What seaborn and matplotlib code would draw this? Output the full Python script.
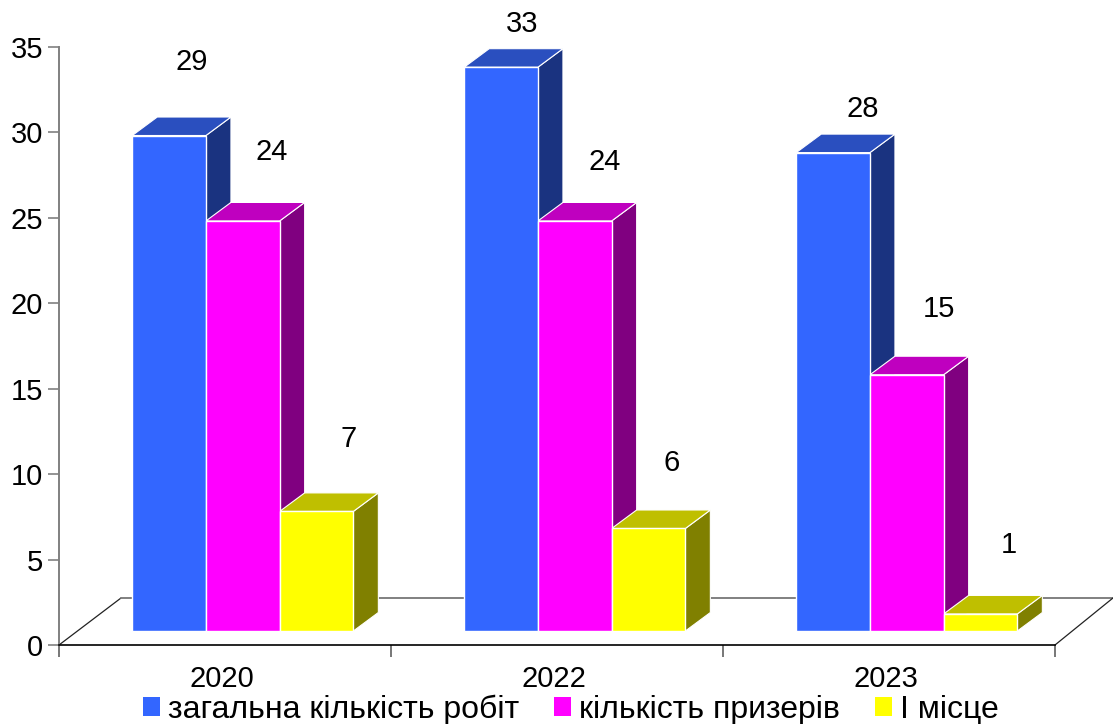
import matplotlib.pyplot as plt
from matplotlib.patches import Patch, Polygon
import pandas as pd
import seaborn as sns

years = ['2020', '2022', '2023']
series = ['загальна кількість робіт', 'кількість призерів', 'І місце']
total_works = [29, 33, 28]
winners = [24, 24, 15]
first_place = [7, 6, 1]

front_colors = ['#3366FF', '#FF00FF', '#FFFF00']
top_colors = ['#2A4FBF', '#BF00BF', '#BFBF00']
side_colors = ['#1A3380', '#800080', '#808000']

# label offsets from the bar's top centre, in pixels (same order as the bars)
label_offsets = [(23, 73.5), (29, 68.5), (32.5, 72.5),
                 (21, 43.5), (30, 58.5), (23.5, 65),
                 (30, 43.5), (32, 65.5), (28, 68.5)]

sns.set_theme(style='white')
plt.rcParams['font.family'] = ['Liberation Sans', 'DejaVu Sans']

df = pd.DataFrame({
    'year': years * 3,
    'kind': [s for s in series for _ in years],
    'value': total_works + winners + first_place,
})

fig = plt.figure(figsize=(11.13, 7.24), dpi=100)
ax = fig.add_axes([59 / 1113, 1 - 645 / 724, 996 / 1113, 598 / 724])

# px per data unit along each axis
px_x = 332.0
px_y = 598 / 35
shift = 17.8 / px_x
base = 14 / px_y
depth_x = 25 / px_x
depth_y = 18.5 / px_y

sns.barplot(data=df, x='year', y='value', hue='kind', order=years, hue_order=series,
            palette=front_colors, width=0.666, bottom=base, saturation=1, legend=False,
            edgecolor='white', linewidth=1, zorder=5, ax=ax)

ax.set_xlim(-0.5 - shift, 2.5 - shift)
ax.set_ylim(0, 35)

# floor of the 3d box
floor_x = 62 / 996
floor_y = 47 / 598
ax.plot([0, floor_x], [0, floor_y], transform=ax.transAxes, color='#222222', lw=0.9, clip_on=False, zorder=1)
ax.plot([floor_x, 1.0582], [floor_y, floor_y], transform=ax.transAxes, color='#808080', lw=1.4, clip_on=False, zorder=1)
ax.plot([1, 1.0582], [0, floor_y], transform=ax.transAxes, color='#222222', lw=0.9, clip_on=False, zorder=1)

# side and top faces, taken from the bars seaborn drew
bars = sorted(ax.patches, key=lambda b: b.get_x())
for i, bar in enumerate(bars):
    s = i % 3
    x0 = bar.get_x()
    x1 = x0 + bar.get_width()
    y0 = bar.get_y()
    y1 = y0 + bar.get_height()
    ax.add_patch(Polygon([(x1, y0), (x1 + depth_x, y0 + depth_y), (x1 + depth_x, y1 + depth_y), (x1, y1)],
                         facecolor=side_colors[s], edgecolor='white', lw=0.8, zorder=2, clip_on=False))
    ax.add_patch(Polygon([(x0, y1), (x0 + depth_x, y1 + depth_y), (x1 + depth_x, y1 + depth_y), (x1, y1)],
                         facecolor=top_colors[s], edgecolor='white', lw=0.8, zorder=2, clip_on=False))
    dx, dy = label_offsets[i]
    ax.annotate(str(int(round(bar.get_height()))), ((x0 + x1) / 2, y1), xytext=(dx * 0.72, dy * 0.72),
                textcoords='offset points', ha='center', va='center', fontsize=21, color='black',
                annotation_clip=False, zorder=6)

sns.despine(ax=ax)
ax.spines['left'].set_color('#808080')
ax.spines['left'].set_linewidth(1.4)
ax.spines['bottom'].set_color('black')
ax.spines['bottom'].set_linewidth(1.2)

ax.set_xlabel('')
ax.set_ylabel('')
ax.set_yticks(range(0, 36, 5))
ax.tick_params(axis='y', which='major', left=True, length=8, width=1.2, color='#808080', pad=3.5, labelsize=21, labelcolor='black')

# ticks on the category borders, year labels on minor ticks
ax.set_xticks([k - 0.5 - shift for k in range(4)])
ax.set_xticklabels([])
ax.set_xticks([k - 20.5 / px_x for k in range(3)], minor=True)
ax.set_xticklabels(years, minor=True)
ax.tick_params(axis='x', which='major', bottom=True, length=8.5, width=1.2, color='#606060')
ax.tick_params(axis='x', which='minor', bottom=False, length=0, pad=14.5, labelsize=21, labelcolor='black')

handles = [Patch(facecolor=c, edgecolor='none', label=s) for c, s in zip(front_colors, series)]
fig.legend(handles=handles, loc='center', bbox_to_anchor=(570.5 / 1113, 1 - 710 / 724), ncol=3, frameon=False,
           fontsize=23, handlelength=0.53, handleheight=0.53, handletextpad=0.25, columnspacing=1.1,
           borderpad=0, labelcolor='black')

fig.savefig('out.png', dpi=100)
